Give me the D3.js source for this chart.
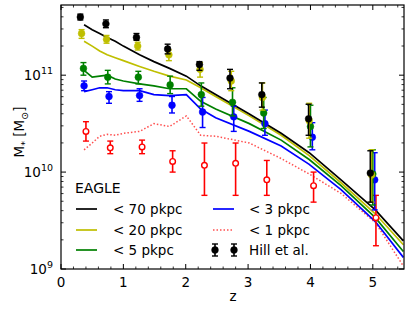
<!DOCTYPE html>
<html>
<head>
<meta charset="utf-8">
<script src="https://cdn.jsdelivr.net/npm/d3@7"></script>
<style>
body{margin:0;background:#fff;}
text{font-family:"DejaVu Sans",sans-serif;fill:#000;}
</style>
</head>
<body>
<div id="chart"></div>
<script>
// EAGLE model redshifts and log10(M*/Msun) for each aperture
var zModel = [0.37,0.50,0.62,0.74,0.87,1.00,1.26,1.49,1.74,2.01,2.24,2.48,3.02,3.53,3.98,4.49,5.04,5.49];
var eagle70 = [11.52,11.47,11.43,11.39,11.35,11.30,11.21,11.14,11.07,10.99,10.89,10.80,10.60,10.40,10.20,9.92,9.61,9.29];
var eagle20 = [11.35,11.30,11.25,11.21,11.18,11.15,11.09,11.04,10.99,10.95,10.87,10.78,10.58,10.38,10.17,9.89,9.57,9.25];
var eagle5  = [11.05,10.98,10.99,11.00,10.96,10.94,10.91,10.89,10.86,10.86,10.73,10.65,10.50,10.33,10.13,9.86,9.53,9.18];
var eagle3  = [10.83,10.85,10.87,10.87,10.85,10.84,10.84,10.80,10.79,10.80,10.65,10.56,10.42,10.27,10.08,9.82,9.49,9.12];
var eagle1  = [10.23,10.30,10.37,10.39,10.38,10.40,10.42,10.50,10.47,10.58,10.38,10.37,10.30,10.14,9.98,9.78,9.48,9.03];

// Hill et al. observations: z, log10 M*, upper, lower
var hill70z = [0.31,0.72,1.21,1.71,2.22,2.71,3.22,3.97,4.96];
var hill70  = [11.60,11.53,11.39,11.27,11.11,10.97,10.80,10.55,9.99];
var hill70hi = [11.63,11.57,11.43,11.32,11.14,11.06,10.92,10.70,10.22];
var hill70lo = [11.57,11.49,11.36,11.22,11.05,10.86,10.67,10.38,9.69];

var hill20z = [0.33,0.73,1.23,1.73,2.23,2.73,3.23,3.98,4.98];
var hill20  = [11.43,11.37,11.30,11.21,11.06,10.94,10.77,10.53,9.97];
var hill20hi = [11.47,11.41,11.34,11.26,11.13,11.04,10.92,10.71,10.23];
var hill20lo = [11.38,11.33,11.26,11.15,10.98,10.84,10.64,10.35,9.69];

var hill5z = [0.36,0.75,1.24,1.75,2.25,2.75,3.25,4.00,5.00];
var hill5  = [11.07,10.98,10.98,10.90,10.80,10.72,10.61,10.47,9.98];
var hill5hi = [11.13,11.05,11.04,10.99,10.92,10.87,10.77,10.69,10.23];
var hill5lo = [11.00,10.91,10.91,10.81,10.68,10.58,10.45,10.26,9.66];

var hill3z = [0.37,0.77,1.26,1.78,2.27,2.77,3.27,4.03,5.03];
var hill3  = [10.89,10.78,10.79,10.69,10.62,10.57,10.50,10.36,9.92];
var hill3hi = [10.94,10.83,10.86,10.78,10.77,10.68,10.64,10.51,10.20];
var hill3lo = [10.84,10.71,10.73,10.61,10.46,10.42,10.38,10.23,9.61];

var hill1z = [0.40,0.79,1.30,1.79,2.30,2.80,3.30,4.05,5.05];
var hill1  = [10.42,10.25,10.26,10.11,10.07,10.09,9.92,9.86,9.53];
var hill1hi = [10.52,10.32,10.33,10.22,10.30,10.30,10.12,10.00,9.76];
var hill1lo = [10.32,10.19,10.19,10.00,9.76,9.76,9.76,9.69,9.24];

var xTicks = [0,1,2,3,4,5];
var yTicks = [9,10,11];

function draw(){
    var w = 409, h = 309;
    var left = 61, right = 404, mTop = 5, bottom = 269;

    var svg = d3.select("#chart").append("svg")
        .attr("width", w).attr("height", h);

    var x = d3.scaleLinear().domain([0, 5.5]).range([left, right]);
    var y = d3.scaleLog().domain([1e9, 5.3e11]).range([bottom, mTop]);
    function Y(v){ return y(Math.pow(10, v)); }

    svg.append("clipPath").attr("id", "c")
        .append("rect").attr("x", left).attr("y", mTop)
        .attr("width", right - left).attr("height", bottom - mTop);

    var plot = svg.append("g").attr("clip-path", "url(#c)");

    // model lines
    var models = [
        {v: eagle1, c: "#ff3030", dash: "1.5,2", op: 0.85},
        {v: eagle3, c: "#0000ff"},
        {v: eagle5, c: "#008000"},
        {v: eagle20, c: "#bfbf00"},
        {v: eagle70, c: "#000000"}
    ];
    var line = d3.line().x(function(d){ return x(d[0]); }).y(function(d){ return Y(d[1]); });
    models.forEach(function(m){
        plot.append("path")
            .attr("d", line(zModel.map(function(z, i){ return [z, m.v[i]]; })))
            .attr("fill", "none")
            .attr("stroke", m.c)
            .attr("stroke-width", m.dash ? 1.5 : 1.7)
            .attr("stroke-dasharray", m.dash || null)
            .attr("opacity", m.op || 1);
    });

    // observations
    var obs = [
        {z: hill1z, v: hill1, hi: hill1hi, lo: hill1lo, c: "#ff0000", open: true},
        {z: hill3z, v: hill3, hi: hill3hi, lo: hill3lo, c: "#0000ff"},
        {z: hill5z, v: hill5, hi: hill5hi, lo: hill5lo, c: "#008000"},
        {z: hill20z, v: hill20, hi: hill20hi, lo: hill20lo, c: "#bfbf00"},
        {z: hill70z, v: hill70, hi: hill70hi, lo: hill70lo, c: "#000000"}
    ];
    function errPoint(g, px, py, pHi, pLo, c, open){
        g.append("line").attr("x1", px).attr("x2", px).attr("y1", pHi).attr("y2", pLo)
            .attr("stroke", c).attr("stroke-width", 1.6);
        [pHi, pLo].forEach(function(p){
            g.append("line").attr("x1", px - 3).attr("x2", px + 3).attr("y1", p).attr("y2", p)
                .attr("stroke", c).attr("stroke-width", 1.4);
        });
        g.append("circle").attr("cx", px).attr("cy", py)
            .attr("r", open ? 2.8 : 3.4)
            .attr("fill", open ? "#fff" : c)
            .attr("stroke", c).attr("stroke-width", open ? 1.4 : 0.5);
    }
    obs.forEach(function(o){
        o.z.forEach(function(z, i){
            errPoint(plot, x(z), Y(o.v[i]), Y(o.hi[i]), Y(o.lo[i]), o.c, o.open);
        });
    });

    // frame and ticks
    svg.append("rect").attr("x", left).attr("y", mTop)
        .attr("width", right - left).attr("height", bottom - mTop)
        .attr("fill", "none").attr("stroke", "#000").attr("stroke-width", 1.2);

    var ax = svg.append("g").attr("stroke", "#000");
    var xMinor = d3.range(0, 5.5001, 0.2).filter(function(t){ return Math.abs(t - Math.round(t)) > 1e-6; });
    xTicks.forEach(function(t){
        ax.append("line").attr("x1", x(t)).attr("x2", x(t)).attr("y1", bottom).attr("y2", bottom - 5).attr("stroke-width", 1);
        ax.append("line").attr("x1", x(t)).attr("x2", x(t)).attr("y1", mTop).attr("y2", mTop + 5).attr("stroke-width", 1);
    });
    xMinor.forEach(function(t){
        ax.append("line").attr("x1", x(t)).attr("x2", x(t)).attr("y1", bottom).attr("y2", bottom - 2.5).attr("stroke-width", 0.8);
        ax.append("line").attr("x1", x(t)).attr("x2", x(t)).attr("y1", mTop).attr("y2", mTop + 2.5).attr("stroke-width", 0.8);
    });
    var yMinor = [];
    [9, 10, 11].forEach(function(e){
        for (var k = 2; k <= 9; k++) {
            var v = k * Math.pow(10, e);
            if (v < 5.3e11) yMinor.push(v);
        }
    });
    yTicks.forEach(function(e){
        var p = y(Math.pow(10, e));
        ax.append("line").attr("x1", left).attr("x2", left + 5).attr("y1", p).attr("y2", p).attr("stroke-width", 1);
        ax.append("line").attr("x1", right).attr("x2", right - 5).attr("y1", p).attr("y2", p).attr("stroke-width", 1);
    });
    yMinor.forEach(function(v){
        var p = y(v);
        ax.append("line").attr("x1", left).attr("x2", left + 2.5).attr("y1", p).attr("y2", p).attr("stroke-width", 0.8);
        ax.append("line").attr("x1", right).attr("x2", right - 2.5).attr("y1", p).attr("y2", p).attr("stroke-width", 0.8);
    });

    // tick labels
    svg.selectAll(".xl").data(xTicks).enter().append("text")
        .attr("x", function(d){ return x(d); })
        .attr("y", 287)
        .attr("text-anchor", "middle")
        .attr("font-size", 13.5)
        .text(function(d){ return d; });

    yTicks.forEach(function(e){
        var t = svg.append("text")
            .attr("x", 53).attr("y", y(Math.pow(10, e)) + 5)
            .attr("text-anchor", "end")
            .attr("font-size", 13.5);
        t.append("tspan").text("10");
        t.append("tspan").attr("dy", -6).attr("font-size", 9.5).text(e);
    });

    // axis labels
    svg.append("text").attr("x", (left + right) / 2 + 0.5).attr("y", 301)
        .attr("text-anchor", "middle").attr("font-size", 13.5).text("z");

    var yl = svg.append("text")
        .attr("transform", "translate(24,132) rotate(-90)")
        .attr("text-anchor", "middle").attr("font-size", 13.5);
    yl.append("tspan").text("M");
    yl.append("tspan").attr("dy", 4).attr("font-size", 9.5).text("*");
    yl.append("tspan").attr("dy", -4).text(" [M");
    yl.append("tspan").attr("dy", 4).attr("font-size", 9.5).text("\u2299");
    yl.append("tspan").attr("dy", -4).text("]");

    // legend
    var legendNames = ["< 70 pkpc", "< 20 pkpc", "< 5 pkpc", "< 3 pkpc", "< 1 pkpc"];
    var lg = svg.append("g");
    lg.append("text").attr("x", 75).attr("y", 193).attr("font-size", 14).text("EAGLE");
    var legendRows = [209, 230, 250];
    var legendModels = [models[4], models[3], models[2], models[1], models[0]];
    legendNames.forEach(function(n, i){
        var col = i < 3 ? 0 : 1;
        var ry = legendRows[i < 3 ? i : i - 3];
        var lx = col === 0 ? 76 : 213;
        var m = legendModels[i];
        lg.append("line").attr("x1", lx).attr("x2", lx + 21).attr("y1", ry).attr("y2", ry)
            .attr("stroke", m.c).attr("stroke-width", m.dash ? 1.5 : 1.7)
            .attr("stroke-dasharray", m.dash || null).attr("opacity", m.op || 1);
        lg.append("text").attr("x", col === 0 ? 113 : 249).attr("y", ry + 5)
            .attr("font-size", 13.5).text(n);
    });
    errPoint(lg, 215, 250, 244, 256, "#000", false);
    errPoint(lg, 234, 250, 244, 256, "#000", false);
    lg.append("text").attr("x", 249).attr("y", 255).attr("font-size", 13.5).text("Hill et al.");
}
draw();
</script>
</body>
</html>
